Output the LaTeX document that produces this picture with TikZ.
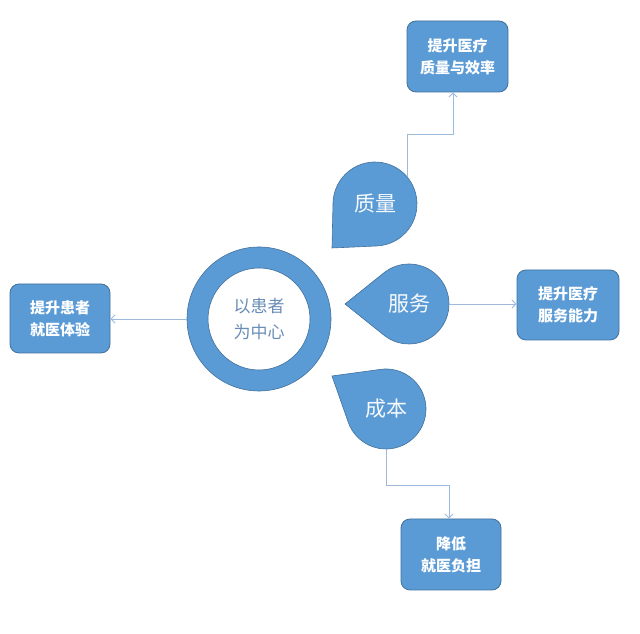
\documentclass[tikz,border=0pt]{standalone}
\usepackage{fontspec}
\newfontfamily\cjk{Noto Sans CJK SC}
\usetikzlibrary{arrows.meta,calc}
\definecolor{bluefill}{HTML}{5B9BD5}
\definecolor{blueedge}{HTML}{41719C}
\definecolor{connc}{HTML}{9DB9DC}
\definecolor{centertxt}{HTML}{6A8DB8}
\begin{document}
\begin{tikzpicture}[x=1pt,y=1pt,
  box/.style={draw=blueedge,fill=bluefill,rounded corners=9pt,line width=0.8pt,
    text=white,font=\cjk\bfseries\fontsize{15}{22}\selectfont,align=center,inner sep=0pt},
  drop/.style={draw=blueedge,fill=bluefill,line width=0.6pt},
  droptxt/.style={circle,inner sep=0pt,text=white!95!bluefill,font=\cjk\fontsize{21}{24}\selectfont},
  conn/.style={draw=connc,line width=0.9pt,-{Straight Barb[length=4pt,width=8pt]}}]
\useasboundingbox (0,0) rectangle (640,634);
\fill[white] (0,0) rectangle (640,634);

% central ring
\fill[bluefill,even odd rule] (259,315) circle[radius=72] (259,315) circle[radius=51];
\draw[blueedge,line width=0.6pt] (259,315) circle[radius=72] (259,315) circle[radius=51];
\node[circle,minimum size=144pt,inner sep=0pt,text=centertxt,align=center,
  font=\cjk\fontsize{17}{26}\selectfont] (ring) at (259,315) {以患者\\为中心};

% teardrops
\draw[drop] (332,386) -- ($(375,430)+(272.6:42)$) arc[start angle=272.6,end angle=538.8,radius=42] -- cycle;
\node[droptxt,minimum size=84pt] (zl) at (375,430) {质量};

\draw[drop] (345,330) -- ($(409,330)+(231.3:40)$) arc[start angle=231.3,end angle=488.7,radius=40] -- cycle;
\node[droptxt,minimum size=80pt] (fw) at (409,330) {服务};

\draw[drop] (332,258) -- ($(386,225)+(199.4:40)$) arc[start angle=199.4,end angle=457.8,radius=40] -- cycle;
\node[droptxt,minimum size=80pt] (cb) at (386,225) {成本};

% boxes
\node[box,minimum width=101pt,minimum height=71pt] (topbox) at (457.5,577.5) {提升医疗\\质量与效率};
\node[box,minimum width=102pt,minimum height=70pt] (rightbox) at (568,329) {提升医疗\\服务能力};
\node[box,minimum width=100pt,minimum height=71pt] (botbox) at (451,79.5) {降低\\就医负担};
\node[box,minimum width=100pt,minimum height=69pt] (leftbox) at (60,315.5) {提升患者\\就医体验};

% connectors
\draw[conn] (zl.40) -- ++(0,42) -| ([xshift=-4.5pt]topbox.south);
\draw[conn] (fw.east) -- (rightbox.west |- fw.east);
\draw[conn] (cb.south) -- ++(0,-36) -| ([xshift=-2pt]botbox.north);
\draw[conn] (ring.west) -- (leftbox.east |- ring.west);
\end{tikzpicture}
\end{document}
